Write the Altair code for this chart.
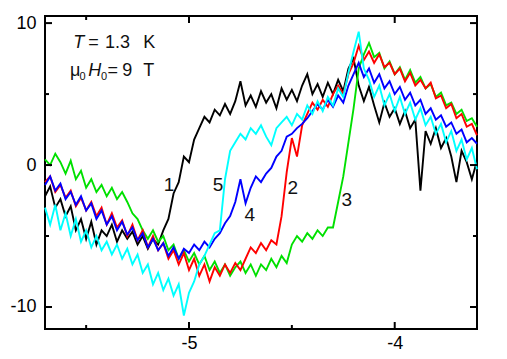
import altair as alt
import pandas as pd

# magnetic field grid (T)
field_T = [
    -5.700, -5.675, -5.650, -5.625, -5.600, -5.575, -5.550, -5.525, -5.500, -5.475,
    -5.450, -5.425, -5.400, -5.375, -5.350, -5.325, -5.300, -5.275, -5.250, -5.225,
    -5.200, -5.175, -5.150, -5.125, -5.100, -5.075, -5.050, -5.025, -5.000, -4.975,
    -4.950, -4.925, -4.900, -4.875, -4.850, -4.825, -4.800, -4.775, -4.750, -4.725,
    -4.700, -4.675, -4.650, -4.625, -4.600, -4.575, -4.550, -4.525, -4.500, -4.475,
    -4.450, -4.425, -4.400, -4.375, -4.350, -4.325, -4.300, -4.275, -4.250, -4.225,
    -4.200, -4.175, -4.150, -4.125, -4.100, -4.075, -4.050, -4.025, -4.000, -3.975,
    -3.950, -3.925, -3.900, -3.875, -3.850, -3.825, -3.800, -3.775, -3.750, -3.725,
    -3.700, -3.675, -3.650, -3.625, -3.600,
]

curve1_black = [
    -2.2, -1.5, -3.0, -2.4, -3.6, -2.9, -4.6, -3.8, -5.2, -4.0,
    -5.6, -4.6, -5.0, -4.2, -5.4, -4.6, -5.2, -4.7, -5.6, -5.0,
    -5.9, -5.2, -5.6, -4.6, -3.8, -2.0, -1.2, 0.6, 0.2, 1.8,
    2.6, 3.4, 3.0, 3.9, 3.5, 4.3, 3.6, 4.5, 5.9, 4.2,
    4.9, 4.1, 5.2, 4.4, 5.0, 4.0, 5.4, 4.6, 5.3, 4.5,
    5.6, 6.4, 5.0, 5.7, 4.8, 5.8, 5.0, 6.0, 5.2, 6.8,
    7.5, 5.6, 4.5, 5.5, 4.2, 3.0, 4.4, 3.4, 4.0, 2.9,
    3.8, 2.6, 3.2, -1.8, 2.4, 1.5, 2.6, 1.2, 1.9, 0.6,
    -1.2, 1.0, 0.2, -1.0, 0.3,
]

curve2_red = [
    -1.2, -0.8, -1.9, -1.4, -2.3, -1.8, -2.9, -2.3, -3.2, -2.6,
    -3.6, -3.0, -4.2, -3.4, -4.4, -3.9, -5.0, -4.2, -5.3, -4.6,
    -5.8, -5.0, -6.0, -5.5, -6.6, -6.0, -7.0, -6.2, -7.4, -6.6,
    -7.8, -7.0, -8.2, -7.2, -7.8, -7.0, -7.6, -6.9, -7.4, -6.6,
    -5.8, -6.2, -5.5, -6.0, -5.3, -5.6, -3.6, -0.5, 1.9, 0.6,
    2.8, 3.6, 4.4, 3.9, 4.6, 4.1, 5.0, 5.6, 5.0, 6.4,
    7.2, 8.4, 7.4, 8.0, 7.2, 7.8, 6.9, 7.2, 6.4, 6.8,
    5.9, 6.5, 5.6, 6.0, 5.4, 5.8, 4.7, 4.9, 4.0, 4.3,
    3.3, 3.6, 2.7, 2.9, 2.1,
]

curve3_green = [
    0.4, 0.0, 0.8, 0.2, -0.6, 0.3, -1.0, -0.4, -1.6, -1.0,
    -1.9, -1.4, -2.2, -1.6, -2.4, -1.9, -2.6, -3.4, -3.8, -4.6,
    -5.2, -4.6, -5.4, -5.0, -6.0, -5.6, -6.6, -6.0, -6.8, -6.2,
    -7.0, -6.4, -7.4, -6.8, -7.6, -7.0, -7.8, -7.2, -6.8, -7.6,
    -7.0, -7.8, -7.0, -7.4, -6.6, -7.2, -6.4, -6.9, -5.6, -5.0,
    -5.4, -4.8, -5.2, -4.6, -5.0, -4.4, -4.4, -2.6, -0.8, 1.6,
    4.0, 6.8, 7.8, 8.6, 7.6, 7.9, 6.8, 7.3, 6.4, 6.9,
    6.0, 6.7, 5.8, 6.2, 5.4, 5.7, 4.8, 5.1, 4.2, 4.4,
    3.6, 3.9, 3.1, 3.3, 2.7,
]

curve4_blue = [
    -1.4, -0.8, -1.8, -1.3, -2.4, -1.9, -2.8, -2.2, -3.2, -2.7,
    -3.8, -3.2, -4.2, -3.6, -4.6, -4.0, -4.9, -4.4, -5.3, -4.8,
    -5.8, -5.2, -6.0, -5.5, -6.4, -5.8, -6.6, -5.9, -6.2, -5.6,
    -6.0, -5.4, -5.8, -5.2, -4.8, -4.1, -3.6, -2.6, -1.0, -2.7,
    -1.6, -0.8, -1.2, -0.6, -0.2, 0.6, 1.0, 2.0, 2.2, 2.6,
    2.9, 3.3, 3.8, 4.3, 3.9, 4.6, 4.1, 4.9, 4.4, 5.6,
    6.4, 7.2, 6.2, 6.8, 5.8, 6.4, 5.4, 5.9, 5.0, 5.5,
    4.6, 5.1, 4.2, 4.6, 3.6, 4.0, 3.2, 3.5, 2.7, 3.0,
    2.2, 2.5, 1.6, 1.9, 1.5,
]

curve5_cyan = [
    -3.0, -4.2, -2.8, -4.6, -3.4, -5.0, -3.8, -5.4, -4.6, -5.8,
    -5.0, -6.0, -5.4, -6.3, -5.6, -6.6, -5.9, -7.0, -6.3, -7.6,
    -7.0, -8.4, -7.6, -8.8, -8.0, -9.2, -8.4, -10.6, -9.0, -8.2,
    -7.0, -6.4, -5.6, -4.8, -4.6, -1.0, 1.0, 1.6, 2.2, 1.8,
    2.6, 2.2, 2.8, 2.0, 1.4, 2.6, 3.0, 3.4, 2.8, 3.6,
    3.2, 4.2, 3.6, 4.5, 3.8, 4.8, 4.2, 5.4, 4.8, 6.5,
    8.0, 9.4, 6.8, 6.0, 4.8, 5.6, 4.2, 5.0, 3.8, 4.8,
    3.6, 4.4, 3.2, 4.0, 2.8, 3.4, 2.2, 2.9, 1.6, 2.4,
    1.0, 1.8, 0.4, 1.2, -0.3,
]

curve_names = ["1", "3", "2", "4", "5"]  # drawing order
curve_colors = {"1": "#000000", "2": "#ff0000", "3": "#00e000", "4": "#0000ff", "5": "#00ffff"}
curve_values = {"1": curve1_black, "2": curve2_red, "3": curve3_green,
                "4": curve4_blue, "5": curve5_cyan}

# curve number labels
label_text = ["1", "2", "3", "4", "5"]
label_x = [-5.097, -4.495, -4.233, -4.704, -4.859]
label_y = [-1.41, -1.65, -2.46, -3.52, -1.41]

# annotation pieces: T = 1.3 K / mu0 H0 = 9 T
info_text = ["T", "=", "1.3", "K", "μ", "0", "H", "0", "=", "9", "T"]
info_x = [-5.563, -5.490, -5.408, -5.223, -5.578, -5.532, -5.490, -5.428, -5.396, -5.325, -5.223]
info_y = [8.24, 8.24, 8.24, 8.24, 6.27, 5.99, 6.27, 5.99, 6.27, 6.27, 6.27]
info_style = ["italic", "normal", "normal", "normal", "normal", "sub", "italic", "sub",
              "normal", "normal", "normal"]

x_labels = [-5, -4]
x_minor = [-5.5, -4.5]
y_labels = [-10, 0, 10]
y_minor = [-5, 5]

W, H = 432, 313
FONT = "Liberation Sans"
xs = alt.Scale(domain=[-5.7, -3.6], nice=False, zero=False)
ys = alt.Scale(domain=[-11.55, 10.5], nice=False, zero=False)

x_axis = alt.Axis(values=x_labels, ticks=False, domain=False, grid=False, title=None,
                  labelFontSize=18, labelFont=FONT, labelColor="black", labelPadding=5,
                  labelExpr="'' + datum.value")
y_axis = alt.Axis(values=y_labels, ticks=False, domain=False, grid=False, title=None,
                  labelFontSize=18, labelFont=FONT, labelColor="black", labelPadding=9,
                  labelExpr="'' + datum.value")

def X(f):
    return alt.X(f, scale=xs, axis=x_axis)

def Y(f):
    return alt.Y(f, scale=ys, axis=y_axis)

layers = []
for name in curve_names:
    d = pd.DataFrame({"field": field_T, "value": curve_values[name]})
    layers.append(
        alt.Chart(d).mark_line(color=curve_colors[name], strokeWidth=1.9, strokeJoin="miter")
        .encode(x=X("field:Q"), y=Y("value:Q"))
    )

def tick_rules(vals, orient, length):
    d = pd.DataFrame({"v": vals})
    c = alt.Chart(d).mark_rule(color="black", strokeWidth=2)
    if orient == "bottom":
        return c.encode(x=X("v:Q"), y=alt.value(H), y2=alt.value(H - length))
    if orient == "top":
        return c.encode(x=X("v:Q"), y=alt.value(0), y2=alt.value(length))
    if orient == "left":
        return c.encode(y=Y("v:Q"), x=alt.value(0), x2=alt.value(length))
    return c.encode(y=Y("v:Q"), x=alt.value(W), x2=alt.value(W - length))

for o in ["bottom", "top"]:
    layers.append(tick_rules(x_labels, o, 7))
    layers.append(tick_rules(x_minor, o, 4))
for o in ["left", "right"]:
    layers.append(tick_rules(y_labels, o, 7))
    layers.append(tick_rules(y_minor, o, 4))

lab_df = pd.DataFrame({"t": label_text, "x": label_x, "y": label_y})
layers.append(
    alt.Chart(lab_df).mark_text(font=FONT, fontSize=19, color="#111111", align="center", baseline="middle")
    .encode(x=X("x:Q"), y=Y("y:Q"), text="t:N")
)

info_df = pd.DataFrame({"t": info_text, "x": info_x, "y": info_y, "s": info_style})
for style, size, fstyle in [("normal", 18, "normal"), ("italic", 18, "italic"), ("sub", 11, "normal")]:
    layers.append(
        alt.Chart(info_df).transform_filter(alt.datum.s == style)
        .mark_text(font=FONT, fontSize=size, fontStyle=fstyle, color="#111111", align="left", baseline="alphabetic")
        .encode(x=X("x:Q"), y=Y("y:Q"), text="t:N")
    )

chart = alt.layer(*layers).properties(
    width=W, height=H,
    padding={"left": 37, "top": 8, "right": 22, "bottom": 26},
    autosize=alt.AutoSizeParams(type="none"),
).configure_view(stroke="black", strokeWidth=2)

chart.save("out.html", embed_options={"renderer": "svg", "actions": False})
